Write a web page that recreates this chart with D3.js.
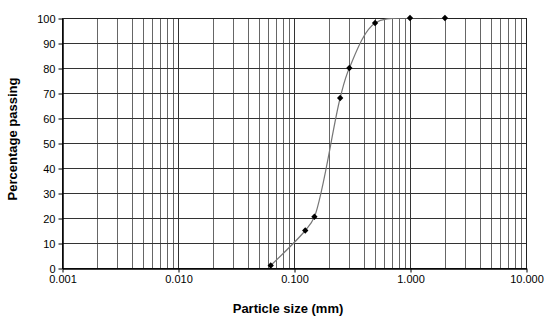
<!DOCTYPE html>
<html>
<head>
<meta charset="utf-8">
<script src="https://cdn.jsdelivr.net/npm/d3@7"></script>
<style>
  body { margin: 0; background: #fff; }
  svg text { font-family: "Liberation Sans", Arial, sans-serif; fill: #000; }
</style>
</head>
<body>
<div id="chart"></div>
<script>
// sieve results
const sizes = [0.063, 0.125, 0.15, 0.25, 0.3, 0.5, 1.0, 2.0];
const passing = [1, 15, 20.5, 68, 80, 98, 100, 100];
const xTickValues = [0.001, 0.01, 0.1, 1, 10];
const yTickValues = [0, 10, 20, 30, 40, 50, 60, 70, 80, 90, 100];

const width = 550;
const height = 322;
const margins = { top: 18, bottom: 54, left: 62, right: 24 };

const svg = d3.select('#chart').append('svg')
  .attr('width', width)
  .attr('height', height);

const xScale = d3.scaleLog()
  .domain([0.001, 10])
  .range([margins.left, width - margins.right]);

const yScale = d3.scaleLinear()
  .domain([0, 100])
  .range([height - margins.bottom, margins.top]);

// minor vertical grid (2..9 in each decade)
const minorTicks = [];
for (let e = -3; e < 1; e++) {
  for (let m = 2; m <= 9; m++) minorTicks.push(m * Math.pow(10, e));
}

const grid = svg.append('g').attr('class', 'grid');

grid.selectAll('.minor')
  .data(minorTicks)
  .enter().append('line')
  .attr('x1', d => Math.round(xScale(d)) + 0.5)
  .attr('x2', d => Math.round(xScale(d)) + 0.5)
  .attr('y1', yScale(0))
  .attr('y2', yScale(100))
  .style('stroke', '#666')
  .style('stroke-width', 1);

grid.selectAll('.major')
  .data(xTickValues)
  .enter().append('line')
  .attr('x1', d => Math.round(xScale(d)) + 0.5)
  .attr('x2', d => Math.round(xScale(d)) + 0.5)
  .attr('y1', yScale(0))
  .attr('y2', yScale(100))
  .style('stroke', '#333')
  .style('stroke-width', 1);

grid.selectAll('.hgrid')
  .data(yTickValues)
  .enter().append('line')
  .attr('x1', xScale(0.001))
  .attr('x2', xScale(10))
  .attr('y1', d => Math.round(yScale(d)) + 0.5)
  .attr('y2', d => Math.round(yScale(d)) + 0.5)
  .style('stroke', '#333')
  .style('stroke-width', 1);

// plot border
svg.append('rect')
  .attr('x', xScale(0.001) + 0.5)
  .attr('y', yScale(100) + 0.5)
  .attr('width', xScale(10) - xScale(0.001))
  .attr('height', yScale(0) - yScale(100))
  .style('fill', 'none')
  .style('stroke', '#222')
  .style('stroke-width', 1);

const yAxis = d3.axisLeft(yScale)
  .tickValues(yTickValues)
  .tickSizeInner(4)
  .tickSizeOuter(0)
  .tickPadding(3);

const yLabel = svg.append('g')
  .attr('class', 'yAxis')
  .attr('transform', `translate(${xScale(0.001) + 0.5},0.5)`)
  .call(yAxis);

yLabel.select('.domain').style('stroke', '#000').style('stroke-width', 1.5);
yLabel.selectAll('.tick line').style('stroke', '#000');
yLabel.selectAll('.tick text')
  .style('font-size', '11px');

const xAxis = d3.axisBottom(xScale)
  .tickValues(xTickValues)
  .tickSizeInner(4)
  .tickSizeOuter(0)
  .tickPadding(3)
  .tickFormat(d3.format('.3f'));

const xLabel = svg.append('g')
  .attr('class', 'xAxis')
  .attr('transform', `translate(0.5,${yScale(0) + 0.5})`)
  .call(xAxis);

xLabel.select('.domain').style('stroke', '#000').style('stroke-width', 1.5);
xLabel.selectAll('.tick line').style('stroke', '#000');
xLabel.selectAll('.tick text')
  .style('font-size', '11px');

// axis titles
svg.append('text')
  .attr('x', 288)
  .attr('y', 313)
  .style('text-anchor', 'middle')
  .style('font-size', '13px')
  .style('font-weight', 'bold')
  .text('Particle size (mm)');

svg.append('text')
  .attr('transform', 'translate(17,139) rotate(-90)')
  .style('text-anchor', 'middle')
  .style('font-size', '13px')
  .style('font-weight', 'bold')
  .text('Percentage passing');

// grading curve
const points = sizes.map((s, i) => ({ size: s, pass: passing[i] }));

svg.append('clipPath')
  .attr('id', 'plotClip')
  .append('rect')
  .attr('x', xScale(0.001))
  .attr('y', yScale(100))
  .attr('width', xScale(10) - xScale(0.001))
  .attr('height', yScale(0) - yScale(100));

const curveLine = d3.line()
  .x(d => xScale(d.size))
  .y(d => yScale(d.pass))
  .curve(d3.curveCatmullRom.alpha(0.5));

svg.append('path')
  .datum(points)
  .attr('clip-path', 'url(#plotClip)')
  .attr('d', curveLine)
  .style('fill', 'none')
  .style('stroke', '#777')
  .style('stroke-width', 1.2);

// diamond markers: square rotated 45 degrees
svg.selectAll('.marker')
  .data(points)
  .enter().append('path')
  .attr('class', 'marker')
  .attr('transform', d => `translate(${xScale(d.size)},${yScale(d.pass)}) rotate(45)`)
  .attr('d', d3.symbol().type(d3.symbolSquare).size(20))
  .style('fill', '#000');
</script>
</body>
</html>
